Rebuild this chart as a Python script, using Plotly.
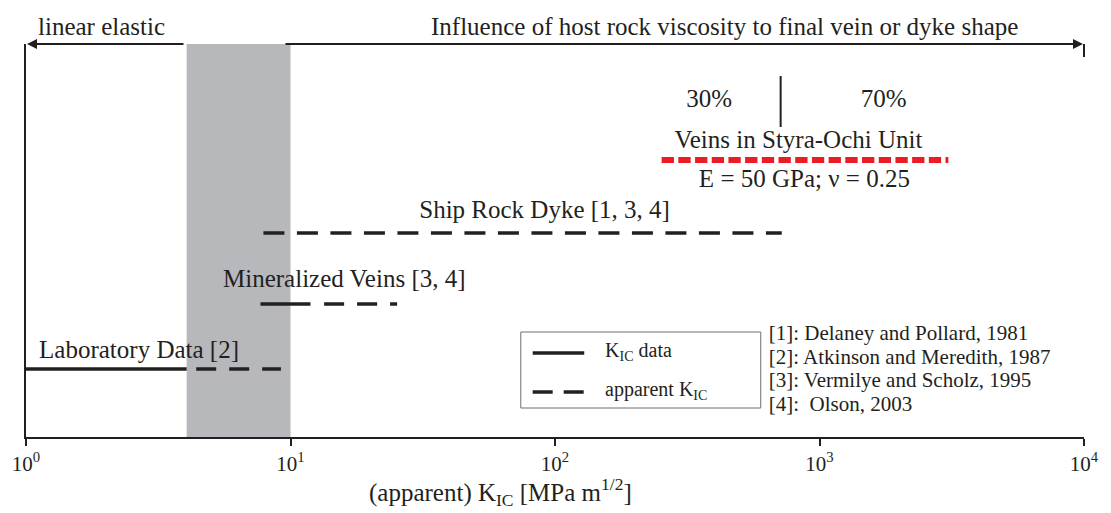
import numpy as np
import plotly.graph_objects as go

# ---------------- data (K_IC ranges in MPa m^1/2) ----------------
lab_solid = [1.0, 4.05]
lab_dash = [4.4, 9.2]
min_solid = [7.7, 11.9]
min_dash = [13.4, 25.3]
ship_dash = [7.9, 720.0]
styra_dash = [253.0, 3070.0]
divider_x = 713.0
gray_band = [4.05, 10.0]

# vertical "rows" (plot rows, top = 44, axis = 437)
row_lab = 369
row_min = 304
row_ship = 233
row_styra = 160
row_div = [76, 127]

tick_vals = [1, 10, 100, 1000, 10000]
tick_text = ["10<sup>0</sup>", "10<sup>1</sup>", "10<sup>2</sup>", "10<sup>3</sup>", "10<sup>4</sup>"]

references = ["[1]: Delaney and Pollard, 1981",
              "[2]: Atkinson and Meredith, 1987",
              "[3]: Vermilye and Scholz, 1995",
              "[4]:\u00a0 Olson, 2003"]

FONT = "Liberation Serif"
INK = "#231f20"
RED = "#ec1c24"
GRAY = "#b7b8bc"

W, H = 1111, 513
L, R, T, B = 26, 18, 44, 76
DEC = (W - L - R) / 4.0


def xp(px):
    return (px - L) / (W - L - R)


def yp(py):
    return (H - B - py) / (H - B - T)


def px2x(px):
    return float(10 ** ((px - L) / DEC))


fig = go.Figure()

# gray band
fig.add_shape(type="rect", xref="x", yref="paper", x0=gray_band[0], x1=gray_band[1],
              y0=0, y1=1, fillcolor=GRAY, line_width=0, layer="below")


def seg(xs, row, dash, color=INK, width=3.4):
    fig.add_trace(go.Scatter(x=xs, y=[row, row], mode="lines",
                             line=dict(color=color, width=width, dash=dash),
                             hoverinfo="skip", showlegend=False))


seg(lab_solid, row_lab, "solid")
seg(lab_dash, row_lab, "20px,13px")
seg(min_solid, row_min, "solid")
seg(min_dash, row_min, "20px,13px")
seg(ship_dash, row_ship, "21px,12.5px")
seg(styra_dash, row_styra, "12.3px,4.4px", color=RED, width=6)

fig.add_trace(go.Scatter(x=[divider_x, divider_x], y=row_div, mode="lines",
                         line=dict(color=INK, width=2), hoverinfo="skip", showlegend=False))


def txt(px, row, s, size=25, pos="middle center"):
    fig.add_trace(go.Scatter(x=[px2x(px)], y=[row], mode="text", text=[s],
                             textposition=pos, cliponaxis=False,
                             textfont=dict(family=FONT, size=size, color=INK),
                             hoverinfo="skip", showlegend=False))


txt(140, 352, "Laboratory Data [2]")
txt(347, 281, "Mineralized Veins [3, 4]")
txt(549, 212, "Ship Rock Dyke [1, 3, 4]")
txt(715, 101, "30%")
txt(891, 101, "70%")
txt(805, 142, "Veins in Styra-Ochi Unit")
txt(811, 181, "E = 50 GPa; \u03bd = 0.25")

# legend box (drawn by hand)
fig.add_shape(type="rect", xref="paper", yref="y", x0=xp(525), x1=xp(767), y0=332, y1=408,
              line=dict(color="#6d6e71", width=1), fillcolor="rgba(0,0,0,0)")
fig.add_shape(type="line", xref="paper", yref="y", x0=xp(537), x1=xp(589), y0=353, y1=353,
              line=dict(color=INK, width=3.4))
fig.add_shape(type="line", xref="paper", yref="y", x0=xp(537), x1=xp(589), y0=392, y1=392,
              line=dict(color=INK, width=3.4, dash="20px,11px"))
txt(610, 352, "K<sub>IC</sub> data", size=20, pos="middle right")
txt(610, 391, "apparent K<sub>IC</sub>", size=20, pos="middle right")

for i, r in enumerate(references):
    txt(775, 335 + 23.5 * i, r, size=21, pos="middle right")


def note(px, py, s, size=25, xanchor="left"):
    return dict(x=xp(px), y=yp(py), xref="paper", yref="paper", text=s, showarrow=False,
                xanchor=xanchor, yanchor="middle",
                font=dict(family=FONT, size=size, color=INK))


ann = [
    note(36, 27, "linear elastic"),
    note(432, 27, "Influence of host rock viscosity to final vein or dyke shape"),
    note(505, 492, "(apparent) K<sub>IC</sub> [MPa m<sup>1/2</sup>]", xanchor="center"),
    # top arrows
    dict(x=xp(27), y=44, ax=185 - 27, ay=0, xref="paper", yref="y",
         axref="pixel", ayref="pixel", text="", showarrow=True,
         arrowhead=2, arrowsize=1.0, arrowwidth=2, arrowcolor=INK, standoff=0),
    dict(x=xp(1092), y=44, ax=293 - 1092, ay=0, xref="paper", yref="y",
         axref="pixel", ayref="pixel", text="", showarrow=True,
         arrowhead=2, arrowsize=1.0, arrowwidth=2, arrowcolor=INK, standoff=0),
]
fig.add_shape(type="line", xref="paper", yref="y", x0=xp(1093), x1=xp(1093), y0=44, y1=57,
              line=dict(color=INK, width=2))

fig.update_layout(
    width=W, height=H, autosize=False,
    margin=dict(l=L, r=R, t=T, b=B, pad=0),
    paper_bgcolor="white", plot_bgcolor="white",
    annotations=ann, showlegend=False,
    font=dict(family=FONT, color=INK),
    xaxis=dict(type="log", range=[0, 4], showgrid=False, zeroline=False,
               showline=True, linecolor=INK, linewidth=2,
               ticks="outside", ticklen=7, tickwidth=2, tickcolor=INK,
               tickvals=tick_vals, ticktext=tick_text,
               tickfont=dict(family=FONT, size=21, color=INK)),
    yaxis=dict(range=[437, 44], showgrid=False, zeroline=False,
               showline=True, linecolor=INK, linewidth=2,
               showticklabels=False, ticks=""),
)

fig.write_html("out.html")
